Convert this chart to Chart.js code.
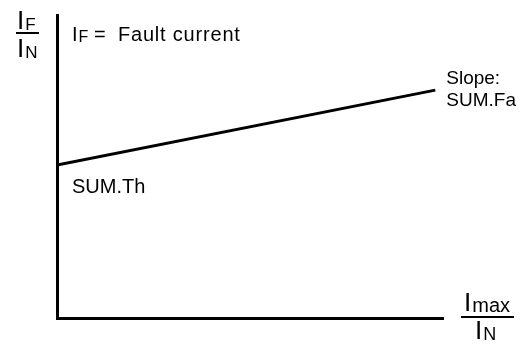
<!DOCTYPE html>
<html>
<head>
<meta charset="utf-8">
<script src="https://cdn.jsdelivr.net/npm/chart.js@4"></script>
<style>
  html, body { margin: 0; padding: 0; background: #fff; }
  #wrap { width: 525px; height: 346px; }
</style>
</head>
<body>
<div id="wrap"><canvas id="chart"></canvas></div>
<script>
// characteristic line: I_F/I_N against I_max/I_N
const xValues = [0, 98];
const yValues = [50.5, 75.2];
const startLabel = "SUM.Th";
const slopeLabel = ["Slope:", "SUM.Fa"];
const legendNote = "Fault current";

const font = "Liberation Sans, Arial, sans-serif";

// draws I_sub text, returns width
function subText(ctx, x, y, main, sub, big, small) {
  ctx.font = big + "px " + font;
  ctx.fillText(main, x, y);
  const w = ctx.measureText(main).width;
  ctx.font = small + "px " + font;
  ctx.fillText(sub, x + w + 1, y + 1);
  return w + 1 + ctx.measureText(sub).width;
}

const labels = {
  id: "labels",
  afterDraw(chart) {
    const ctx = chart.ctx;
    const xs = chart.scales.x, ys = chart.scales.y;
    const area = chart.chartArea;
    ctx.save();
    ctx.fillStyle = "#000";
    ctx.strokeStyle = "#000";
    ctx.textBaseline = "alphabetic";
    ctx.textAlign = "left";

    // y axis title: I_F / I_N
    subText(ctx, area.left - 40, area.top + 14, "I", "F", 26, 17);
    ctx.lineWidth = 2;
    ctx.beginPath();
    ctx.moveTo(area.left - 41, area.top + 18);
    ctx.lineTo(area.left - 18, area.top + 18);
    ctx.stroke();
    subText(ctx, area.left - 40, area.top + 42, "I", "N", 26, 17);

    // note
    subText(ctx, area.left + 15, area.top + 26, "I", "F", 20, 16);
    ctx.font = "20px " + font;
    ctx.fillText("=", area.left + 37, area.top + 26);
    ctx.letterSpacing = "0.8px";
    ctx.fillText(legendNote, area.left + 61, area.top + 26);
    ctx.letterSpacing = "0px";

    // start label
    ctx.fillText(startLabel, xs.getPixelForValue(xValues[0]) + 15, ys.getPixelForValue(yValues[0]) + 28);

    // slope label
    const ex = xs.getPixelForValue(xValues[1]) + 11;
    const ey = ys.getPixelForValue(yValues[1]);
    ctx.font = "19px " + font;
    ctx.fillText(slopeLabel[0], ex, ey - 6);
    ctx.fillText(slopeLabel[1], ex, ey + 16);

    // x axis title: I_max / I_N
    const bx = area.right + 18;
    subText(ctx, bx + 3, area.bottom - 7, "I", "max", 26, 20);
    ctx.beginPath();
    ctx.moveTo(bx, area.bottom - 1);
    ctx.lineTo(bx + 53, area.bottom - 1);
    ctx.stroke();
    subText(ctx, bx + 14, area.bottom + 21, "I", "N", 26, 18);
    ctx.restore();
  }
};

new Chart(document.getElementById("chart"), {
  type: "line",
  data: {
    datasets: [{
      data: xValues.map((x, i) => ({ x: x, y: yValues[i] })),
      borderColor: "#000",
      borderWidth: 3,
      pointRadius: 0,
      fill: false
    }]
  },
  options: {
    responsive: true,
    maintainAspectRatio: false,
    animation: false,
    layout: { padding: { left: 57, top: 15, right: 82, bottom: 28 } },
    plugins: { legend: { display: false }, tooltip: { enabled: false } },
    scales: {
      x: {
        type: "linear", min: 0, max: 100,
        grid: { display: false, drawTicks: false },
        ticks: { display: false },
        border: { display: true, color: "#000", width: 3 }
      },
      y: {
        type: "linear", min: 0, max: 100,
        grid: { display: false, drawTicks: false },
        ticks: { display: false },
        border: { display: true, color: "#000", width: 3 }
      }
    }
  },
  plugins: [labels]
});
</script>
</body>
</html>
